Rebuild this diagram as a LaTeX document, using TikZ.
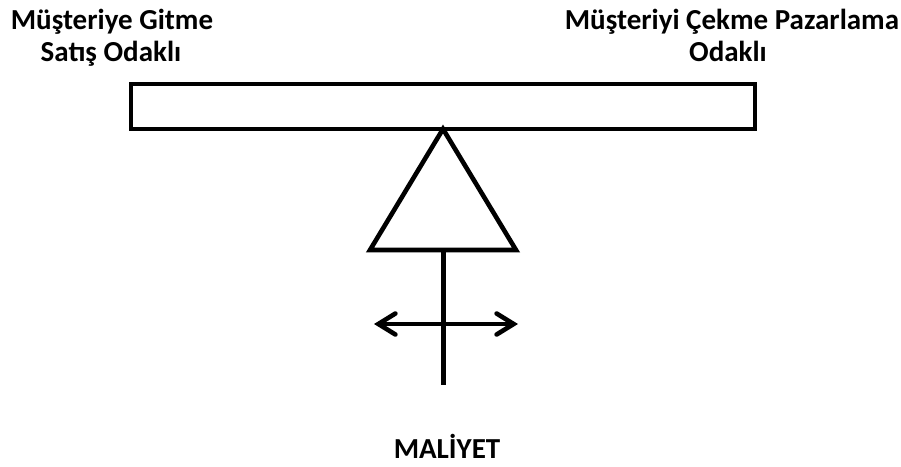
\documentclass[tikz,border=0pt]{standalone}
\usepackage{fontspec}
\setmainfont{Carlito}
\usetikzlibrary{arrows.meta}
\begin{document}
\begin{tikzpicture}[x=1pt,y=-1pt,
  lbl/.style={font=\fontsize{29}{34}\selectfont\bfseries, anchor=base, inner sep=0pt},
  thick line/.style={line width=4.6pt},
  barb/.style={-{Straight Barb[length=17pt,width=21pt,line width=4.6pt,line cap=round]}}]
  \useasboundingbox (0,0) rectangle (901,466);
  % beam
  \draw[thick line] (131,84) rectangle (755,129);
  % fulcrum
  \coordinate (apex) at (443,129);
  \coordinate (bl) at (370,250);
  \coordinate (br) at (516,250);
  \draw[thick line, line join=miter] (apex) -- (bl) -- (br) -- cycle;
  % stem below the fulcrum
  \coordinate (stemtop) at (443.5,250);
  \coordinate (stembot) at (443.5,385);
  \draw[thick line] (stemtop) -- (stembot);
  % two-way arrow across the stem
  \coordinate (al) at (374,324);
  \coordinate (ar) at (518,324);
  \coordinate (amid) at (446,324);
  \draw[thick line, barb] (amid) -- (al);
  \draw[thick line, barb] (amid) -- (ar);
  % labels
  \node[lbl] (l1) at (112,29.5) {Müşteriye Gitme};
  \node[lbl] (l2) at (111,61) {Satış Odaklı};
  \node[lbl] (r1) at (732,29.5) {Müşteriyi Çekme Pazarlama};
  \node[lbl] (r2) at (728,61) {Odaklı};
  \node[lbl] (m) at (447,458) {MALİYET};
\end{tikzpicture}
\end{document}
